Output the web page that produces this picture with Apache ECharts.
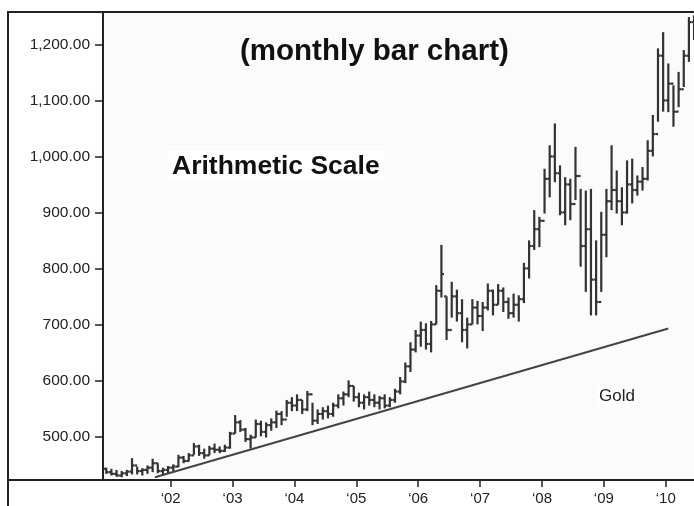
<!DOCTYPE html>
<html>
<head>
<meta charset="utf-8">
<script src="https://cdn.jsdelivr.net/npm/echarts@6/dist/echarts.min.js"></script>
<style>
html,body{margin:0;padding:0;background:#fff;}
#chart{width:694px;height:506px;}
</style>
</head>
<body>
<div id="chart"></div>
<script>
// Months: Dec 2000 .. Jun 2010
const startYear = 2000, startMonth = 12, monthCount = 115;
const months = [];
for (let i = 0; i < monthCount; i++) {
  const m0 = startMonth - 1 + i;
  months.push((startYear + Math.floor(m0 / 12)) + '-' + String(m0 % 12 + 1).padStart(2, '0'));
}
const highs = [444,442,440,438,440,461,446,443,448,460,452,444,447,
  450,467,465,470,488,485,478,483,487,482,485,508,
  538,529,515,503,530,528,525,532,546,545,565,570,
  575,565,581,560,548,552,555,560,575,580,600,590,
  578,575,580,575,572,575,570,585,606,632,668,690,
  705,702,706,770,842,750,776,762,745,712,745,742,
  740,773,762,772,766,748,755,752,810,850,904,892,
  978,1020,1059,984,963,960,1017,942,939,942,850,901,
  942,1020,975,945,993,996,966,981,1029,1074,1193,1222,
  1166,1127,1151,1190,1249,1252];
const lows = [433,430,428,427,429,432,432,430,433,436,434,430,433,
  437,445,452,455,467,465,460,466,470,470,472,478,
  505,508,490,478,498,500,498,510,515,520,535,545,
  545,540,545,520,522,530,532,535,550,555,570,562,
  552,548,555,552,548,550,552,560,575,595,615,650,
  660,655,650,700,748,672,712,705,668,657,700,700,
  688,725,716,735,722,710,712,705,738,782,833,838,
  898,927,954,895,877,886,922,803,758,716,716,758,
  820,904,898,877,898,916,930,939,957,1000,1062,1080,
  1079,1053,1088,1124,1169,1208];
const opens = [442,436,433,430,434,437,448,438,440,444,452,438,440,
  444,446,462,456,466,482,470,466,478,476,474,480,
  505,525,512,495,498,522,508,520,525,540,530,560,
  555,565,548,575,528,540,545,540,555,568,575,590,
  570,560,570,565,560,568,555,565,580,598,625,655,
  680,690,665,700,760,750,690,750,720,690,700,730,
  715,730,760,735,760,740,720,735,745,800,840,870,
  885,960,1000,970,900,950,915,965,840,870,780,740,
  860,920,940,920,900,950,940,955,960,1010,1040,1180,
  1100,1130,1080,1120,1180,1240];
const closes = [436,433,430,434,437,448,438,440,444,452,438,440,444,
  446,462,456,466,482,470,466,478,476,474,480,505,
  525,512,495,498,522,508,520,525,540,530,560,555,
  565,548,575,528,540,545,540,555,568,575,590,570,
  560,570,565,560,568,555,565,580,598,625,655,680,
  690,665,700,760,790,690,750,720,690,700,730,715,
  730,760,735,760,740,720,735,745,800,840,870,885,
  960,1000,970,900,950,915,965,840,870,780,740,860,
  920,940,920,900,950,940,955,960,1010,1040,1180,1100,
  1130,1080,1120,1180,1240,1230];
// trend line endpoints [year fraction, price]
const trendStart = [2001.746, 427];
const trendEnd = [2010.042, 692.5];
const yTicks = [500,600,700,800,900,1000,1100,1200];
const xTicks = [2002,2003,2004,2005,2006,2007,2008,2009,2010];

function monthToT(s) {
  const [y, m] = s.split('-').map(Number);
  return y + (m - 0.5) / 12;
}
const ohlc = months.map((s, i) => [monthToT(s), opens[i], highs[i], lows[i], closes[i]]);

function fmtY(v) {
  const s = Math.round(v).toString().replace(/\B(?=(\d{3})+(?!\d))/g, ',');
  return s + '.00';
}

const chart = echarts.init(document.getElementById('chart'), null, {renderer: 'canvas'});
const FONT = '"Liberation Sans", Arial, Helvetica, sans-serif';
const INK = '#222';
chart.setOption({
  animation: false,
  backgroundColor: '#ffffff',
  grid: {left: 103, right: 0, top: 12, bottom: 26, show: true, backgroundColor: '#fbfbfb', borderWidth: 0},
  xAxis: {
    type: 'value', min: 2000.906, max: 2010.457,
    axisLine: {show: false},
    splitLine: {show: false},
    axisTick: {show: true, customValues: xTicks, length: 7, lineStyle: {color: INK, width: 1.5}},
    axisLabel: {customValues: xTicks, color: INK, fontFamily: FONT, fontSize: 15, margin: 11,
      formatter: v => '\u2018' + String(v).slice(2)}
  },
  yAxis: {
    type: 'value', min: 422, max: 1258,
    axisLine: {show: false},
    splitLine: {show: false},
    axisTick: {show: true, customValues: yTicks, length: 8, lineStyle: {color: INK, width: 1.5}},
    axisLabel: {customValues: yTicks, color: INK, fontFamily: FONT, fontSize: 15.5, margin: 13, formatter: fmtY}
  },
  series: [
    {
      type: 'custom',
      data: ohlc,
      encode: {x: 0, y: [1, 2, 3, 4]},
      renderItem: function (params, api) {
        const t = api.value(0);
        const o = api.coord([t, api.value(1)]);
        const h = api.coord([t, api.value(2)]);
        const l = api.coord([t, api.value(3)]);
        const c = api.coord([t, api.value(4)]);
        const st = {stroke: '#333', lineWidth: 2.2};
        return {
          type: 'group',
          children: [
            {type: 'line', shape: {x1: h[0], y1: h[1], x2: l[0], y2: l[1]}, style: st},
            {type: 'line', shape: {x1: o[0] - 2.5, y1: o[1], x2: o[0], y2: o[1]}, style: st},
            {type: 'line', shape: {x1: c[0], y1: c[1], x2: c[0] + 2.5, y2: c[1]}, style: st}
          ]
        };
      }
    },
    {
      type: 'line',
      data: [trendStart, trendEnd],
      symbol: 'none',
      lineStyle: {color: '#444', width: 2},
      z: 3
    }
  ],
  graphic: [
    {type: 'line', shape: {x1: 8, y1: 12, x2: 694, y2: 12}, style: {stroke: INK, lineWidth: 2}, z: 100},
    {type: 'line', shape: {x1: 8, y1: 11, x2: 8, y2: 506}, style: {stroke: INK, lineWidth: 2}, z: 100},
    {type: 'line', shape: {x1: 103, y1: 11, x2: 103, y2: 480}, style: {stroke: INK, lineWidth: 2}, z: 100},
    {type: 'line', shape: {x1: 8, y1: 480, x2: 694, y2: 480}, style: {stroke: INK, lineWidth: 2}, z: 100},
    {type: 'text', left: 240, top: 37, z: 100,
      style: {text: '(monthly bar chart)', fill: '#111', font: 'bold 29.5px ' + FONT}},
    {type: 'text', left: 168, top: 151, z: 100,
      style: {text: 'Arithmetic Scale', fill: '#111', font: 'bold 26.5px ' + FONT,
        backgroundColor: '#fff', padding: [2, 4]}},
    {type: 'text', left: 597, top: 386, z: 100,
      style: {text: 'Gold', fill: '#222', font: '17px ' + FONT, backgroundColor: '#fff', padding: [2, 2]}}
  ]
});
</script>
</body>
</html>
